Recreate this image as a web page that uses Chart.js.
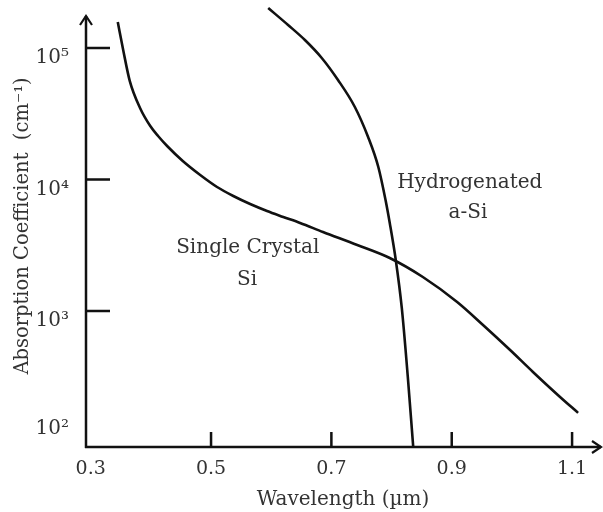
<!DOCTYPE html>
<html>
<head>
<meta charset="utf-8">
<script src="https://cdn.jsdelivr.net/npm/chart.js@4.4.1/dist/chart.umd.min.js"></script>
<style>
html, body { margin: 0; padding: 0; background: #fff; }
#wrap { width: 603px; height: 512px; }
</style>
</head>
<body>
<div id="wrap"><canvas id="chart"></canvas></div>
<script>
// Valeurs (schéma)
const xTicks = [0.3, 0.5, 0.7, 0.9, 1.1];
const yTicks = [100, 1000, 10000, 100000];

// Silicium monocristallin
const crystalX = [0.345, 0.354, 0.365, 0.382, 0.399, 0.412, 0.427, 0.453, 0.482, 0.510, 0.537, 0.565, 0.593, 0.620, 0.648, 0.686, 0.743, 0.797, 0.852, 0.909, 0.952, 0.997, 1.035, 1.080, 1.110];
const crystalY = [157700, 96600, 56000, 35000, 25520, 21420, 17980, 13830, 10820, 8770, 7490, 6510, 5760, 5190, 4670, 3990, 3177, 2530, 1814, 1171, 783, 505, 344, 222, 168];

// a-Si hydrogéné
const amorphX = [0.595, 0.628, 0.656, 0.684, 0.711, 0.739, 0.761, 0.778, 0.790, 0.797, 0.807, 0.817, 0.827, 0.836];
const amorphY = [201500, 149600, 115000, 83950, 57100, 35600, 21050, 12450, 6985, 4670, 2443, 1054, 315, 92.5];

const sup = { 2: '²', 3: '³', 4: '⁴', 5: '⁵' };
const ink = '#111';
const textCol = '#333';
const serif = 'DejaVu Serif';

function toPoints(xs, ys) {
    return xs.map((x, i) => ({ x: x, y: ys[i] }));
}

// Axes avec flèches et graduations internes
const axesPlugin = {
    id: 'axes',
    afterDatasetsDraw(chart) {
        const { ctx, chartArea, scales } = chart;
        const x0 = chartArea.left, y0 = chartArea.bottom;
        const yTop = chartArea.top + 11;
        const xEnd = chartArea.right + 1;
        ctx.save();
        ctx.strokeStyle = ink;
        ctx.lineWidth = 2.5;
        ctx.beginPath();
        ctx.moveTo(x0, y0 + 1);
        ctx.lineTo(x0, yTop);
        ctx.moveTo(x0 - 1, y0);
        ctx.lineTo(xEnd, y0);
        ctx.stroke();

        ctx.lineWidth = 2.2;
        ctx.beginPath();
        ctx.moveTo(x0 - 6, yTop + 9);
        ctx.lineTo(x0, yTop);
        ctx.lineTo(x0 + 6, yTop + 9);
        ctx.moveTo(xEnd - 9, y0 - 6);
        ctx.lineTo(xEnd, y0);
        ctx.lineTo(xEnd - 9, y0 + 6);
        ctx.stroke();

        ctx.lineWidth = 2.5;
        ctx.beginPath();
        xTicks.slice(1).forEach(v => {
            const px = scales.x.getPixelForValue(v);
            ctx.moveTo(px, y0);
            ctx.lineTo(px, y0 - 15);
        });
        yTicks.slice(1).forEach(v => {
            const py = scales.y.getPixelForValue(v);
            ctx.moveTo(x0, py);
            ctx.lineTo(x0 + 24, py);
        });
        ctx.stroke();
        ctx.restore();
    }
};

// Étiquettes des courbes
const notes = [
    { text: 'Single Crystal', x: 0.561, y: 3000 },
    { text: 'Si', x: 0.560, y: 1720 },
    { text: 'Hydrogenated', x: 0.930, y: 9400 },
    { text: 'a-Si', x: 0.927, y: 5560 }
];

const notesPlugin = {
    id: 'notes',
    afterDatasetsDraw(chart) {
        const { ctx, scales } = chart;
        ctx.save();
        ctx.fillStyle = textCol;
        ctx.font = '20px "' + serif + '"';
        ctx.textAlign = 'center';
        ctx.textBaseline = 'middle';
        notes.forEach(n => {
            ctx.fillText(n.text, scales.x.getPixelForValue(n.x), scales.y.getPixelForValue(n.y));
        });
        ctx.restore();
    }
};

const ctx = document.getElementById('chart').getContext('2d');
new Chart(ctx, {
    type: 'line',
    data: {
        datasets: [{
            label: 'Single Crystal Si',
            data: toPoints(crystalX, crystalY),
            borderColor: ink,
            borderWidth: 2.6,
            pointRadius: 0,
            cubicInterpolationMode: 'monotone',
            fill: false
        }, {
            label: 'Hydrogenated a-Si',
            data: toPoints(amorphX, amorphY),
            borderColor: ink,
            borderWidth: 2.6,
            pointRadius: 0,
            cubicInterpolationMode: 'monotone',
            fill: false
        }]
    },
    options: {
        responsive: true,
        maintainAspectRatio: false,
        animation: false,
        layout: { padding: { top: 5, right: 3, left: 0, bottom: 0 } },
        plugins: {
            legend: { display: false },
            tooltip: { enabled: false }
        },
        scales: {
            x: {
                type: 'linear',
                min: 0.2922,
                max: 1.1464,
                afterBuildTicks: scale => { scale.ticks = xTicks.map(v => ({ value: v })); },
                afterFit: scale => { scale.height = 65; scale.paddingLeft = 0; scale.paddingRight = 0; },
                grid: { display: false },
                border: { display: false },
                ticks: {
                    padding: 3,
                    color: textCol,
                    font: { family: serif, size: 19 },
                    maxRotation: 0,
                    callback: v => v.toFixed(1)
                },
                title: {
                    display: true,
                    text: 'Wavelength (µm)',
                    color: textCol,
                    font: { family: serif, size: 20 },
                    padding: { top: 0, bottom: 0 }
                }
            },
            y: {
                type: 'logarithmic',
                min: 92.4,
                max: 212300,
                afterBuildTicks: scale => { scale.ticks = yTicks.map(v => ({ value: v })); },
                afterFit: scale => { scale.width = 86; scale.paddingTop = 0; scale.paddingBottom = 0; },
                grid: { display: false },
                border: { display: false },
                ticks: {
                    padding: 9,
                    labelOffset: 10,
                    color: textCol,
                    font: { family: serif, size: 20 },
                    callback: v => {
                        const e = Math.round(Math.log10(v));
                        const s = '10' + sup[e];
                        return e === 2 ? [s, '', ''] : s;
                    }
                },
                title: {
                    display: true,
                    text: 'Absorption Coefficient  (cm⁻¹)',
                    color: textCol,
                    font: { family: serif, size: 19.5 },
                    padding: { top: 11, bottom: 0 }
                }
            }
        }
    },
    plugins: [axesPlugin, notesPlugin]
});
</script>
</body>
</html>
